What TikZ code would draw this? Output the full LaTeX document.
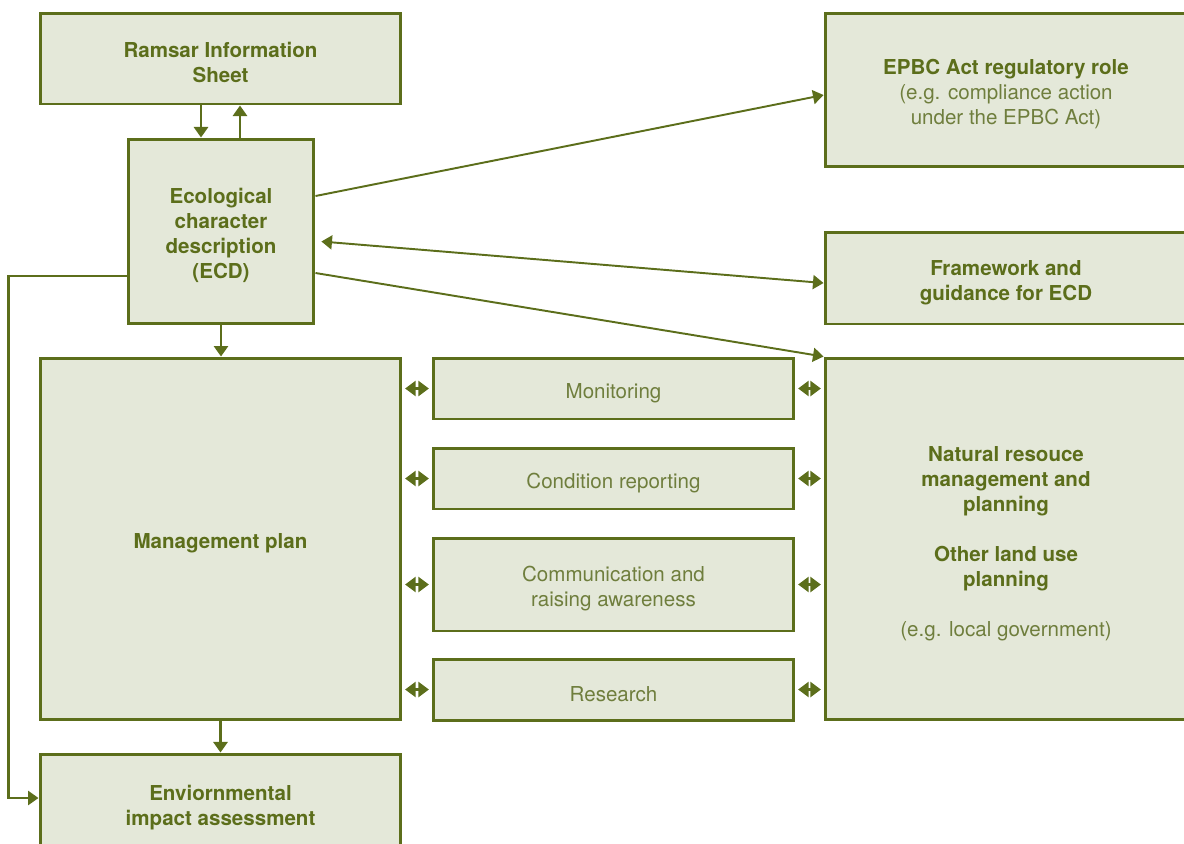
\documentclass[tikz,border=0pt]{standalone}
\usepackage{fontspec}
\setmainfont{TeX Gyre Heros}
\usetikzlibrary{arrows.meta}
\definecolor{olive}{HTML}{5C6E1B}
\definecolor{boxfill}{HTML}{E4E8D9}
\definecolor{softtext}{HTML}{6F7E3D}
\newcommand{\lift}{\rule{0pt}{13.6pt}}

\tikzset{
  box/.style     = {shape=rectangle, draw=olive, fill=boxfill, line width=1.7pt,
                    align=center, inner sep=0pt, text=olive,
                    font=\fontsize{11.7}{14.2}\selectfont},
  headbox/.style = {box, font=\fontsize{11.7}{14.2}\selectfont\bfseries},
  plainbox/.style= {box, text=softtext},
  conn/.style    = {draw=olive, line width=1.5pt, -{Triangle[length=6pt,width=8pt]}},
  slant/.style   = {conn, line width=1.1pt},
  both/.style    = {conn, {Triangle[length=6pt,width=8.5pt]}-{Triangle[length=6pt,width=8.5pt]},
                    shorten <=1.5pt, shorten >=1.5pt}
}

\begin{document}
\begin{tikzpicture}[x=0.02cm,y=-0.02cm]
 \useasboundingbox (0,0) rectangle (1184,843);
 \clip (0,0) rectangle (1184,843);

 % left column
 \node [headbox, minimum width=7.22cm, minimum height=1.82cm] (ramsar) at (220.5,58.5)
   {\lift Ramsar Information\\Sheet};
 \node [headbox, minimum width=3.72cm, minimum height=3.70cm] (ecd) at (221,231.5)
   {\lift Ecological\\character\\description\\(ECD)};
 \node [headbox, minimum width=7.22cm, minimum height=7.24cm] (mgmt) at (220.5,539)
   {\lift Management plan};
 \node [headbox, minimum width=7.22cm, minimum height=1.98cm] (eia) at (220.5,803.5)
   {\lift Enviornmental\\impact assessment};

 % middle column
 \node [plainbox, minimum width=7.22cm, minimum height=1.22cm] (monitor) at (613.5,388.5) {\lift Monitoring};
 \node [plainbox, minimum width=7.22cm, minimum height=1.22cm] (condition) at (613.5,478.5) {\lift Condition reporting};
 \node [plainbox, minimum width=7.22cm, minimum height=1.86cm] (comms) at (613.5,584.5)
   {\lift Communication and\\raising awareness};
 \node [plainbox, minimum width=7.22cm, minimum height=1.22cm] (research) at (613.5,689.5) {\lift Research};

 % right column
 \node [plainbox, minimum width=7.24cm, minimum height=3.08cm] (epbc) at (1006,90)
   {\lift\textcolor{olive}{\bfseries EPBC Act regulatory role}\\(e.g. compliance action\\under the EPBC Act)};
 \node [headbox, minimum width=7.24cm, minimum height=1.84cm] (frame) at (1006,278)
   {\lift Framework and\\guidance for ECD};
 \node [plainbox, minimum width=7.24cm, minimum height=7.24cm] (nrm) at (1006,539)
   {\lift\textcolor{olive}{\bfseries Natural resouce}\\\textcolor{olive}{\bfseries management and}\\\textcolor{olive}{\bfseries planning}\\[0.5cm]
    \textcolor{olive}{\bfseries Other land use}\\\textcolor{olive}{\bfseries planning}\\[0.5cm]
    (e.g. local government)};

 % vertical links
 \draw [conn] ([xshift=-0.39cm]ramsar.south) -- ([xshift=-0.39cm]ramsar.south |- ecd.north);
 \draw [conn] ([xshift=0.38cm]ecd.north) -- ([xshift=0.38cm]ecd.north |- ramsar.south);
 \draw [conn] (ecd.south) -- (ecd.south |- mgmt.north);
 \draw [conn] (mgmt.south) -- (mgmt.south |- eia.north);
 \draw [conn] ([yshift=-0.89cm]ecd.west) -- ++(-2.36cm,0) |- ([yshift=0.11cm]eia.west);

 % links out of the ECD
 \draw [slant] ([yshift=0.71cm]ecd.east) -- ([yshift=-0.1cm]epbc.west);
 \draw [slant, {Triangle[length=6pt,width=8pt]}-{Triangle[length=6pt,width=8pt]}, shorten <=3.4pt]
   ([yshift=-0.19cm]ecd.east) -- ([yshift=-0.1cm]frame.west);
 \draw [slant] ([yshift=-0.83cm]ecd.east) -- (nrm.north west);

 % activities in between
 \foreach \act in {monitor,condition,comms,research} {
   \draw [both] (mgmt.east |- \act.west) -- (\act.west);
   \draw [both] (\act.east) -- (nrm.west |- \act.east);
 }
\end{tikzpicture}
\end{document}
